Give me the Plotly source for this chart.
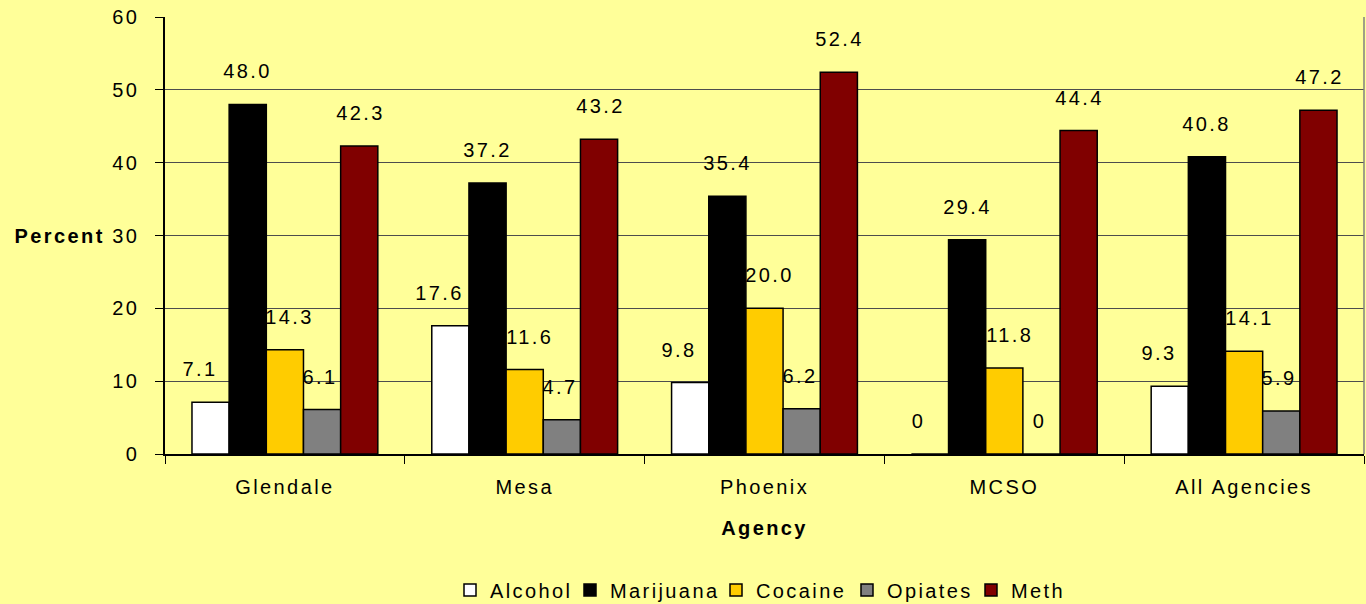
import plotly.graph_objects as go

agencies = ["Glendale", "Mesa", "Phoenix", "MCSO", "All Agencies"]
series_names = ["Alcohol", "Marijuana", "Cocaine", "Opiates", "Meth"]
alcohol = [7.1, 17.6, 9.8, 0, 9.3]
marijuana = [48.0, 37.2, 35.4, 29.4, 40.8]
cocaine = [14.3, 11.6, 20.0, 11.8, 14.1]
opiates = [6.1, 4.7, 6.2, 0, 5.9]
meth = [42.3, 43.2, 52.4, 44.4, 47.2]
y_ticks = [0, 10, 20, 30, 40, 50, 60]

values = [alcohol, marijuana, cocaine, opiates, meth]
colors = ["#FFFFFF", "#000000", "#FFCC00", "#808080", "#800000"]
label_nudge_px = [-11, 0, 5, -2, 1]          # style: horizontal nudge of value labels
legend_left_px = [450, 570, 716, 847, 971]   # layout: left edge of each legend entry

FONT = "Liberation Sans, Arial, sans-serif"
FS = 20
W, H = 1366, 604
ML, MR, MT, MB = 165, 2, 17, 150
BARGAP = 0.225
plot_w = W - ML - MR
plot_h = H - MT - MB
cat_w = plot_w / len(agencies)
bar_w = cat_w * (1 - BARGAP) / len(series_names)

def fmt(v):
    return "0" if v == 0 else f"{v:.1f}"

fig = go.Figure()
for i, (name, vals, col) in enumerate(zip(series_names, values, colors)):
    lg = "legend" if i == 0 else f"legend{i + 1}"
    fig.add_trace(go.Bar(
        name=name, x=agencies, y=vals, legend=lg,
        marker=dict(color=col, line=dict(color="#000000", width=1.5)),
    ))
    offset = (i - (len(series_names) - 1) / 2) * bar_w + label_nudge_px[i]
    for a, v in zip(agencies, vals):
        fig.add_annotation(x=a, y=v, xref="x", yref="y", text=fmt(v),
                           showarrow=False, xshift=offset, yshift=33,
                           xanchor="center", yanchor="middle",
                           font=dict(family=FONT, size=FS, color="#000000"))

legends = {}
for i, px in enumerate(legend_left_px):
    key = "legend" if i == 0 else f"legend{i + 1}"
    legends[key] = dict(orientation="h", x=(px - ML) / plot_w, xanchor="left",
                        y=-(590 - (H - MB)) / plot_h, yanchor="middle",
                        font=dict(family=FONT, size=FS), bgcolor="rgba(0,0,0,0)",
                        itemwidth=30)

fig.update_layout(
    width=W, height=H,
    barmode="group", bargap=BARGAP, bargroupgap=0,
    paper_bgcolor="#FFFF99", plot_bgcolor="#FFFF99",
    margin=dict(l=ML, r=MR, t=MT, b=MB, autoexpand=False),
    font=dict(family=FONT, size=FS, color="#000000"),
    showlegend=True,
    **legends,
)
fig.update_xaxes(
    type="category", showline=True, linecolor="#000000", linewidth=1.5,
    ticks="outside", tickson="boundaries", ticklen=8, tickcolor="#000000",
    tickfont=dict(family=FONT, size=FS), ticklabelstandoff=14,
    title=dict(text="<b>Agency</b>", font=dict(family=FONT, size=FS), standoff=24),
    showgrid=False, automargin=False,
)
fig.update_yaxes(
    range=[0, 60], tickvals=y_ticks, showline=True, linecolor="#000000", linewidth=1.5,
    ticks="outside", ticklen=8, tickcolor="#000000",
    showgrid=True, gridcolor="#4D4D4D", gridwidth=1,
    tickfont=dict(family=FONT, size=FS), zeroline=False, ticklabelstandoff=12,
    automargin=False,
)
fig.add_annotation(text="<b>Percent</b>", xref="paper", yref="y", x=0, y=30,
                   xshift=60 - ML, xanchor="center", yanchor="middle", showarrow=False,
                   font=dict(family=FONT, size=FS))
fig.add_shape(type="line", xref="paper", yref="paper", x0=1, x1=1, y0=0, y1=1,
              line=dict(color="#808080", width=1.5))

post = (
    "document.body.style.margin='0';"
    "var s=document.createElement('style');"
    "s.innerHTML='.main-svg text{letter-spacing:2.4px} .main-svg .annotation-text b{letter-spacing:3.4px}';"
    "document.head.appendChild(s);"
    "function fix(){"
    " document.querySelectorAll('.infolayer [clip-path], .legend [clip-path], .annotation [clip-path]').forEach(function(e){e.removeAttribute('clip-path');});"
    " try{var sp=document.querySelector('.cartesianlayer .subplot.xy'); var pg=sp && sp.querySelector(':scope > .plot');"
    "  if(pg){document.querySelectorAll('.infolayer .annotation').forEach(function(a){sp.insertBefore(a,pg);});}}catch(e){}"
    "}"
    "fix(); setTimeout(fix, 50); setTimeout(fix, 300);"
)
fig.write_html("out.html", post_script=post, config={"displayModeBar": False})
